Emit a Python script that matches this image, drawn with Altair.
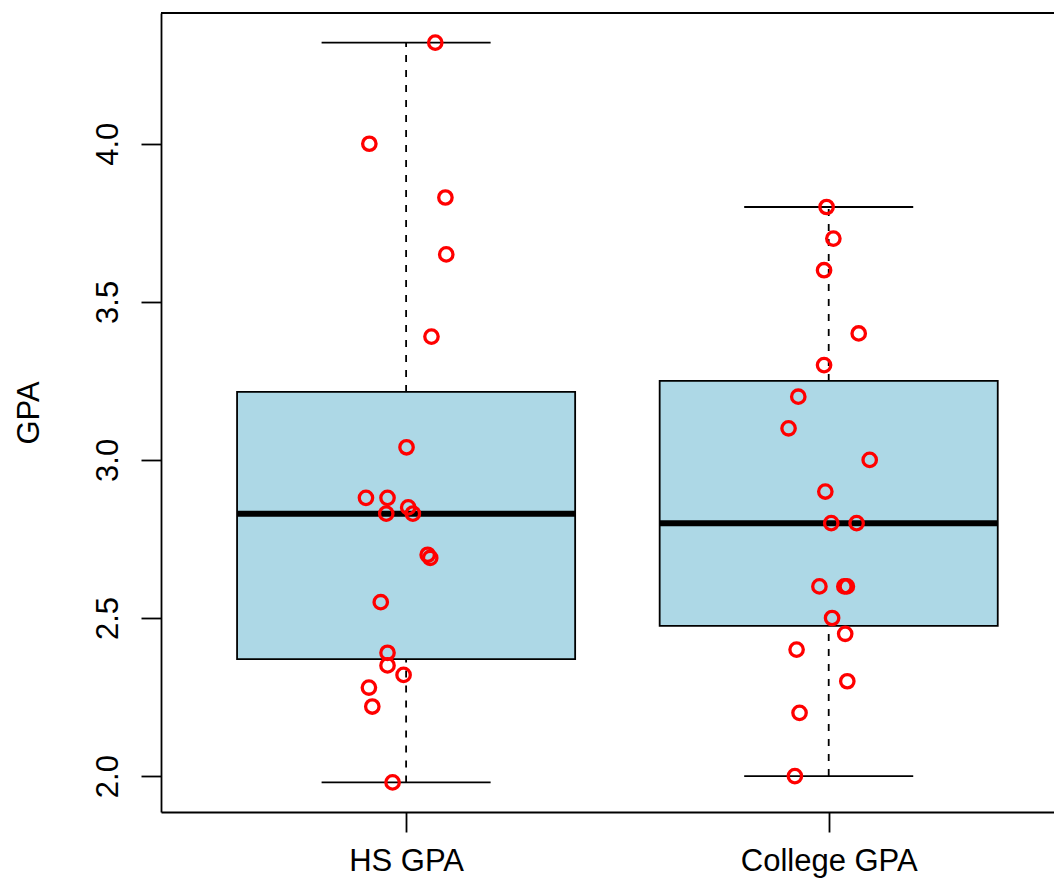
import math
import altair as alt
import pandas as pd

# ---- data ----
groups = ["HS GPA", "College GPA"]
positions = [1, 2]

hs_gpa = [4.32, 4.00, 3.83, 3.65, 3.39, 3.04, 2.88, 2.88, 2.85, 2.83,
          2.83, 2.70, 2.69, 2.55, 2.39, 2.35, 2.32, 2.28, 2.22, 1.98]
hs_jitter = [1.069, 0.913, 1.093, 1.095, 1.060, 1.001, 0.905, 0.956, 1.005, 0.953,
             1.016, 1.051, 1.057, 0.940, 0.956, 0.956, 0.994, 0.912, 0.920, 0.968]

college_gpa = [3.80, 3.70, 3.60, 3.40, 3.30, 3.20, 3.10, 3.00, 2.90, 2.80,
               2.80, 2.60, 2.60, 2.60, 2.50, 2.45, 2.40, 2.30, 2.20, 2.00]
college_jitter = [1.995, 2.011, 1.989, 2.071, 1.989, 1.928, 1.905, 2.097, 1.992, 2.006,
                  2.066, 1.978, 2.037, 2.043, 2.008, 2.039, 1.924, 2.044, 1.931, 1.920]

y_ticks = [2.0, 2.5, 3.0, 3.5, 4.0]
y_title = "GPA"


def fivenum(v):
    x = sorted(v)
    n = len(x)
    n4 = math.floor((n + 3) / 2) / 2
    d = [1, n4, (n + 1) / 2, n + 1 - n4, n]
    return [0.5 * (x[math.floor(di - 1)] + x[math.ceil(di - 1)]) for di in d]


def box_stats(v, pos):
    mn, q1, med, q3, mx = fivenum(v)
    iqr = q3 - q1
    lo = min(a for a in v if a >= q1 - 1.5 * iqr)
    hi = max(a for a in v if a <= q3 + 1.5 * iqr)
    return dict(pos=pos, left=pos - 0.4, right=pos + 0.4, capl=pos - 0.2, capr=pos + 0.2,
                q1=q1, med=med, q3=q3, wlo=lo, whi=hi)


box_df = pd.DataFrame([box_stats(hs_gpa, positions[0]), box_stats(college_gpa, positions[1])])
pts_df = pd.DataFrame({
    "x": hs_jitter + college_jitter,
    "gpa": hs_gpa + college_gpa,
})

W, H = 893, 799
PX_PER_UNIT = 422.6
xdom = [0.42, 0.42 + W / PX_PER_UNIT]
ydom = [1.8864, 4.4136]
FONT = "Liberation Sans"
FS = 31
LW = 1.8

label_expr = f"datum.value == {positions[0]} ? '{groups[0]}' : '{groups[1]}'"

xscale = alt.Scale(domain=xdom, nice=False, zero=False)
yscale = alt.Scale(domain=ydom, nice=False, zero=False)

x_axis = alt.Axis(values=positions, labelExpr=label_expr, title=None, grid=False,
                  tickSize=20, tickWidth=LW, tickColor="black",
                  domainColor="black", domainWidth=LW,
                  labelFont=FONT, labelFontSize=FS, labelColor="black",
                  labelBaseline="alphabetic", labelPadding=38, labelAlign="center")
y_axis = alt.Axis(values=y_ticks, format=".1f", title=y_title, grid=False,
                  tickSize=20, tickWidth=LW, tickColor="black",
                  domainColor="black", domainWidth=LW,
                  labelFont=FONT, labelFontSize=FS, labelColor="black",
                  labelAngle=270, labelAlign="center", labelBaseline="alphabetic",
                  labelPadding=24,
                  titleFont=FONT, titleFontSize=FS, titleColor="black",
                  titleFontWeight="normal", titleAngle=270, titleAlign="center",
                  titleBaseline="alphabetic", titleX=-123, titleY=H / 2)

base = alt.Chart(box_df)

box = base.mark_rect(fill="#ADD8E6", stroke="black", strokeWidth=LW).encode(
    x=alt.X("left:Q", scale=xscale, axis=x_axis),
    x2="right:Q",
    y=alt.Y("q1:Q", scale=yscale, axis=y_axis),
    y2="q3:Q",
)

whisk_hi = base.mark_rule(color="black", strokeWidth=LW, strokeDash=[7, 8]).encode(
    x=alt.X("pos:Q", scale=xscale, axis=x_axis),
    y=alt.Y("q3:Q", scale=yscale, axis=y_axis),
    y2="whi:Q",
)
whisk_lo = base.mark_rule(color="black", strokeWidth=LW, strokeDash=[7, 8]).encode(
    x=alt.X("pos:Q", scale=xscale, axis=x_axis),
    y=alt.Y("wlo:Q", scale=yscale, axis=y_axis),
    y2="q1:Q",
)
cap_hi = base.mark_rule(color="black", strokeWidth=LW).encode(
    x=alt.X("capl:Q", scale=xscale, axis=x_axis),
    x2="capr:Q",
    y=alt.Y("whi:Q", scale=yscale, axis=y_axis),
)
cap_lo = base.mark_rule(color="black", strokeWidth=LW).encode(
    x=alt.X("capl:Q", scale=xscale, axis=x_axis),
    x2="capr:Q",
    y=alt.Y("wlo:Q", scale=yscale, axis=y_axis),
)
median = base.mark_rule(color="black", strokeWidth=6, strokeCap="butt").encode(
    x=alt.X("left:Q", scale=xscale, axis=x_axis),
    x2="right:Q",
    y=alt.Y("med:Q", scale=yscale, axis=y_axis),
)

points = alt.Chart(pts_df).mark_point(filled=False, color="#FF0000", strokeWidth=3.3,
                                      size=180, opacity=1).encode(
    x=alt.X("x:Q", scale=xscale, axis=x_axis),
    y=alt.Y("gpa:Q", scale=yscale, axis=y_axis),
)

top_border = alt.Chart(pd.DataFrame({"k": [0]})).mark_rule(color="black", strokeWidth=LW).encode(
    x=alt.value(0), x2=alt.value(W), y=alt.value(0)
)

chart = alt.layer(box, whisk_hi, whisk_lo, cap_hi, cap_lo, median, points, top_border).properties(
    width=W, height=H,
    background="white",
    autosize=alt.AutoSizeParams(type="none"),
    padding={"left": 153, "top": 5, "right": 0, "bottom": 68},
).configure_view(stroke=None)

chart.save("out.html", embed_options={"renderer": "svg", "actions": False})
